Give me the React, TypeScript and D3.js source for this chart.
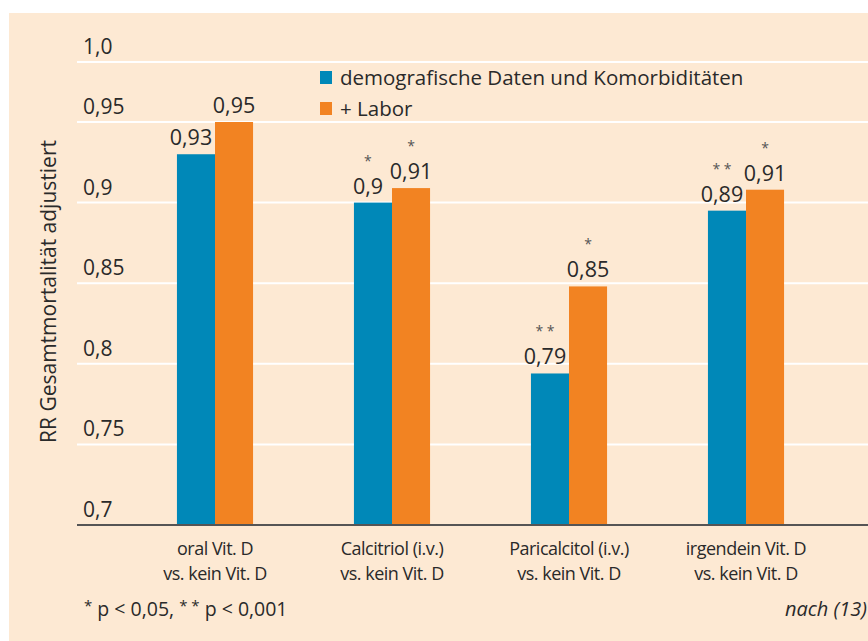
import React from "react";
import * as d3 from "d3";

const width = 868;
const height = 641;
const blue = "#0088b8";
const orange = "#f28322";
const bg = "#fde9d3";
const ink = "#2a2a2a";
const font = "'Open Sans', sans-serif";

// data
const categories = ["oral", "calcitriol", "paricalcitol", "irgendein"];
const categoryLines = [
  ["oral Vit. D", "vs. kein Vit. D"],
  ["Calcitriol (i.v.)", "vs. kein Vit. D"],
  ["Paricalcitol (i.v.)", "vs. kein Vit. D"],
  ["irgendein Vit. D", "vs. kein Vit. D"],
];
const seriesNames = ["demografische Daten und Komorbiditäten", "+ Labor"];
const demoValues = [0.93, 0.9, 0.794, 0.895];
const laborValues = [0.95, 0.909, 0.848, 0.908];
const demoLabels = ["0,93", "0,9", "0,79", "0,89"];
const laborLabels = ["0,95", "0,91", "0,85", "0,91"];
const demoStars = ["", "*", "* *", "* *"];
const laborStars = ["", "*", "*", "*"];
const yTicks = [0.7, 0.75, 0.8, 0.85, 0.9, 0.95];
const yTickLabels = ["0,7", "0,75", "0,8", "0,85", "0,9", "0,95"];
const topLabel = "1,0";

const plot = { left: 77, right: 868, top: 122, bottom: 525 };

export default function App() {
  const yScale = d3.scaleLinear().domain([0.7, 0.95]).range([plot.bottom, plot.top]);
  const xScale = d3
    .scaleBand()
    .domain(categories)
    .range([126.5, 834.5])
    .paddingInner(0.57)
    .paddingOuter(0.285);
  const sub = d3.scaleBand().domain(["demo", "labor"]).range([0, xScale.bandwidth()]);

  const series = [
    { key: "demo", values: demoValues, labels: demoLabels, stars: demoStars, color: blue, shift: -5 },
    { key: "labor", values: laborValues, labels: laborLabels, stars: laborStars, color: orange, shift: 0 },
  ];
  const topLineY = yScale(0.95) - 60;

  return (
    <svg
      width={width}
      height={height}
      style={{ position: "absolute", left: 0, top: 0 }}
      fontFamily={font}
    >
      <rect x={0} y={0} width={width} height={height} fill="#fff" />
      <rect x={9} y={13} width={width - 9} height={height - 13} fill={bg} />

      {/* grid */}
      {yTicks.map((t, i) => (
        <g key={t}>
          {i > 0 && (
            <line x1={plot.left} x2={plot.right} y1={yScale(t)} y2={yScale(t)} stroke="#fff" strokeWidth={2} />
          )}
          <text x={83} y={yScale(t) - 8} fontSize={21} fill={ink}>
            {yTickLabels[i]}
          </text>
        </g>
      ))}
      <line x1={plot.left} x2={plot.right} y1={topLineY} y2={topLineY} stroke="#fff" strokeWidth={2} />
      <text x={83} y={topLineY - 8} fontSize={21} fill={ink}>
        {topLabel}
      </text>

      {/* bars */}
      {series.map((s) =>
        categories.map((c, i) => {
          const x = (xScale(c) ?? 0) + (sub(s.key) ?? 0);
          const w = sub.bandwidth();
          const y = yScale(s.values[i]);
          const cx = x + w / 2 + s.shift;
          return (
            <g key={s.key + c}>
              <rect x={x} y={y} width={w} height={plot.bottom - y} fill={s.color} />
              <text x={cx} y={y - 9} textAnchor="middle" fontSize={21.5} fill={ink}>
                {s.labels[i]}
              </text>
              {s.stars[i] && (
                <text x={cx} y={y - 37} textAnchor="middle" fontSize={14} fill="#555">
                  {s.stars[i]}
                </text>
              )}
            </g>
          );
        })
      )}

      {/* x axis */}
      <line x1={plot.left} x2={plot.right} y1={plot.bottom} y2={plot.bottom} stroke="#555" strokeWidth={2} />
      {categories.map((c, i) => {
        const cx = (xScale(c) ?? 0) + xScale.bandwidth() / 2;
        return (
          <g key={c}>
            {categoryLines[i].map((line, j) => (
              <text
                key={line}
                x={cx}
                y={555 + j * 25}
                textAnchor="middle"
                fontSize={18}
                fill={ink}
                letterSpacing={-0.5}
              >
                {line}
              </text>
            ))}
          </g>
        );
      })}

      {/* y title */}
      <text
        transform={`translate(56, ${(plot.top + plot.bottom) / 2 - 32}) rotate(-90)`}
        textAnchor="middle"
        fontSize={21}
        fill={ink}
      >
        RR Gesamtmortalität adjustiert
      </text>

      {/* legend */}
      {seriesNames.map((n, i) => (
        <g key={n} transform={`translate(320, ${71 + i * 31})`}>
          <rect x={0} y={0} width={12} height={13} fill={i === 0 ? blue : orange} />
          <text x={20} y={14} fontSize={20.5} fill={ink}>
            {n}
          </text>
        </g>
      ))}

      {/* footnotes */}
      <text x={84} y={616} fontSize={19.5} fill={ink}>
        <tspan fontSize={15} dy={-5}>*</tspan>
        <tspan dy={5}> p {"<"} 0,05, </tspan>
        <tspan fontSize={15} dy={-5}>* *</tspan>
        <tspan dy={5}> p {"<"} 0,001</tspan>
      </text>
      <text x={867} y={616} textAnchor="end" fontSize={20} fontStyle="italic" fill={ink}>
        nach (13)
      </text>
    </svg>
  );
}
